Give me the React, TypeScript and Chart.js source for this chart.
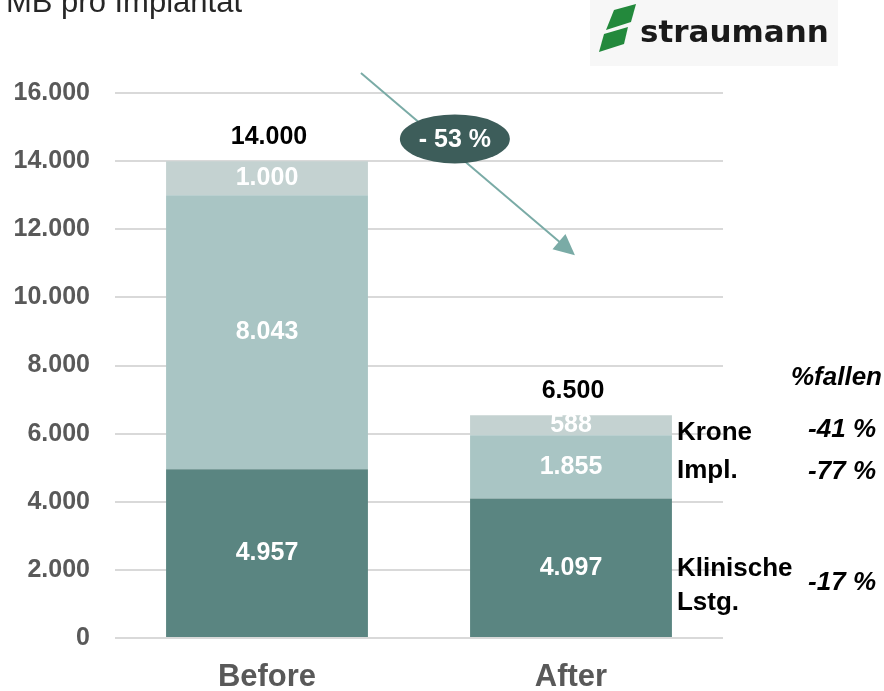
import React, { useEffect, useRef } from 'react';
import { Chart, registerables } from 'chart.js';

Chart.register(...registerables);

// ---- data ----
const categories = ['Before', 'After'];
const klinischeLstg = [4957, 4097];
const implantat = [8043, 1855];
const krone = [1000, 588];
const totalLabels = ['14.000', '6.500'];
const segmentNames = [['Klinische', 'Lstg.'], ['Impl.'], ['Krone']];
const fallenLabels = ['-17 %', '-77 %', '-41 %'];
const fallenTitle = '%fallen';
const changeLabel = '- 53 %';
const titleText = 'MB pro Implantat';
const logoText = 'straumann';
const yMax = 16000;
const yStep = 2000;

// ---- styles ----
const COLORS = ['#5a8581', '#a9c5c4', '#c4d2d1'];
const ARIAL = '"Liberation Sans", Arial, sans-serif';
const nameOffsets = [1, 4, 8];
const pctOffsets = [15, 5, 5];

const fmt = (v: number) => String(Math.round(v)).replace(/\B(?=(\d{3})+(?!\d))/g, '.');

const overlayPlugin = {
  id: 'overlay',
  afterDatasetsDraw(chart: any) {
    const ctx = chart.ctx;
    const xs = chart.scales.x;
    const ys = chart.scales.y;
    ctx.save();
    // segment value labels
    ctx.textAlign = 'center';
    ctx.textBaseline = 'middle';
    ctx.fillStyle = '#ffffff';
    ctx.font = `bold 25px ${ARIAL}`;
    chart.data.datasets.forEach((ds: any, di: number) => {
      const meta = chart.getDatasetMeta(di);
      meta.data.forEach((el: any, i: number) => {
        const c = el.getCenterPoint();
        ctx.fillText(fmt(ds.data[i]), c.x, c.y);
      });
    });
    // totals
    const topMeta = chart.getDatasetMeta(chart.data.datasets.length - 1);
    ctx.fillStyle = '#000000';
    ctx.font = `bold 25px ${ARIAL}`;
    topMeta.data.forEach((el: any, i: number) => {
      ctx.fillText(totalLabels[i], el.x + 2, el.y - 24);
    });
    // segment names and percentage next to last bar
    const last = categories.length - 1;
    chart.data.datasets.forEach((ds: any, di: number) => {
      const el = chart.getDatasetMeta(di).data[last];
      const c = el.getCenterPoint();
      const left = el.x + el.width / 2 + 5;
      ctx.textAlign = 'left';
      ctx.fillStyle = '#000000';
      ctx.font = `bold 26px ${ARIAL}`;
      segmentNames[di].forEach((line, li) => {
        ctx.fillText(line, left, c.y + nameOffsets[di] + li * 34);
      });
      ctx.textAlign = 'right';
      ctx.font = `italic bold 26px ${ARIAL}`;
      ctx.fillText(fallenLabels[di], chart.width - 8, c.y + pctOffsets[di]);
    });
    ctx.textAlign = 'right';
    ctx.font = `italic bold 26px ${ARIAL}`;
    ctx.fillText(fallenTitle, chart.width - 2, ys.getPixelForValue(7650));

    // arrow
    const x0 = xs.getPixelForValue(0.309);
    const y0 = ys.getPixelForValue(16590);
    const x1 = xs.getPixelForValue(1.013);
    const y1 = ys.getPixelForValue(11240);
    const ang = Math.atan2(y1 - y0, x1 - x0);
    ctx.strokeStyle = '#7aaba6';
    ctx.fillStyle = '#7aaba6';
    ctx.lineWidth = 2;
    ctx.beginPath();
    ctx.moveTo(x0, y0);
    ctx.lineTo(x1 - Math.cos(ang) * 12, y1 - Math.sin(ang) * 12);
    ctx.stroke();
    const hl = 21, hw = 10;
    ctx.beginPath();
    ctx.moveTo(x1, y1);
    ctx.lineTo(x1 - Math.cos(ang) * hl + Math.sin(ang) * hw, y1 - Math.sin(ang) * hl - Math.cos(ang) * hw);
    ctx.lineTo(x1 - Math.cos(ang) * hl - Math.sin(ang) * hw, y1 - Math.sin(ang) * hl + Math.cos(ang) * hw);
    ctx.closePath();
    ctx.fill();

    // ellipse with change label
    const ex = xs.getPixelForValue(0.618);
    const ey = ys.getPixelForValue(14650);
    ctx.fillStyle = '#3d5d5a';
    ctx.beginPath();
    ctx.ellipse(ex, ey, 55, 24.5, 0, 0, Math.PI * 2);
    ctx.fill();
    ctx.fillStyle = '#ffffff';
    ctx.textAlign = 'center';
    ctx.font = `bold 25px ${ARIAL}`;
    ctx.fillText(changeLabel, ex, ey + 1);
    ctx.restore();
  },
  afterDraw(chart: any) {
    const ctx = chart.ctx;
    ctx.save();
    // title (clipped at the top-left)
    ctx.fillStyle = '#262626';
    ctx.font = `31px ${ARIAL}`;
    ctx.textAlign = 'right';
    ctx.textBaseline = 'alphabetic';
    ctx.fillText(titleText, 242, 12);
    // logo
    ctx.fillStyle = '#f7f7f7';
    ctx.fillRect(590, 0, 248, 66);
    ctx.fillStyle = '#23893c';
    ctx.beginPath();
    ctx.moveTo(614, 10);
    ctx.lineTo(636, 4);
    ctx.lineTo(631, 22);
    ctx.lineTo(606, 30);
    ctx.closePath();
    ctx.fill();
    ctx.beginPath();
    ctx.moveTo(604, 34);
    ctx.lineTo(628, 27);
    ctx.lineTo(624, 44);
    ctx.lineTo(599, 52);
    ctx.closePath();
    ctx.fill();
    ctx.fillStyle = '#1a1a1a';
    ctx.textAlign = 'left';
    ctx.font = `bold 31px "DejaVu Sans", sans-serif`;
    ctx.fillText(logoText, 640, 42);
    ctx.restore();
  },
};

export default function App() {
  const ref = useRef<HTMLCanvasElement>(null);
  useEffect(() => {
    if (!ref.current) return;
    const chart = new Chart(ref.current, {
      type: 'bar',
      data: {
        labels: categories,
        datasets: [
          { label: 'Klinische Lstg.', data: klinischeLstg, backgroundColor: COLORS[0] },
          { label: 'Impl.', data: implantat, backgroundColor: COLORS[1] },
          { label: 'Krone', data: krone, backgroundColor: COLORS[2] },
        ],
      },
      options: {
        responsive: false,
        animation: false,
        layout: { padding: { left: 0, right: 161, top: 93, bottom: 0 } },
        plugins: { legend: { display: false }, tooltip: { enabled: false }, title: { display: false } },
        datasets: { bar: { barPercentage: 0.664, categoryPercentage: 1 } },
        scales: {
          x: {
            stacked: true,
            grid: { display: false, drawTicks: false },
            border: { display: false },
            ticks: { color: '#595959', font: { family: ARIAL, size: 31, weight: 'bold' }, padding: 21 },
            afterFit: (s: any) => { s.height = 53; },
          },
          y: {
            stacked: true,
            min: 0,
            max: yMax,
            ticks: {
              stepSize: yStep,
              color: '#595959',
              font: { family: ARIAL, size: 25, weight: 'bold' },
              padding: 25,
              callback: (v: any) => fmt(Number(v)),
            },
            grid: { color: '#d9d9d9', lineWidth: 2, drawTicks: false },
            border: { display: false },
            afterFit: (s: any) => { s.width = 115; },
          },
        },
      },
      plugins: [overlayPlugin],
    } as any);
    return () => chart.destroy();
  }, []);
  return (
    <div style={{ position: 'absolute', left: 0, top: 0, width: 884, height: 691, background: '#ffffff' }}>
      <canvas ref={ref} width={884} height={691} style={{ display: 'block' }} />
    </div>
  );
}
